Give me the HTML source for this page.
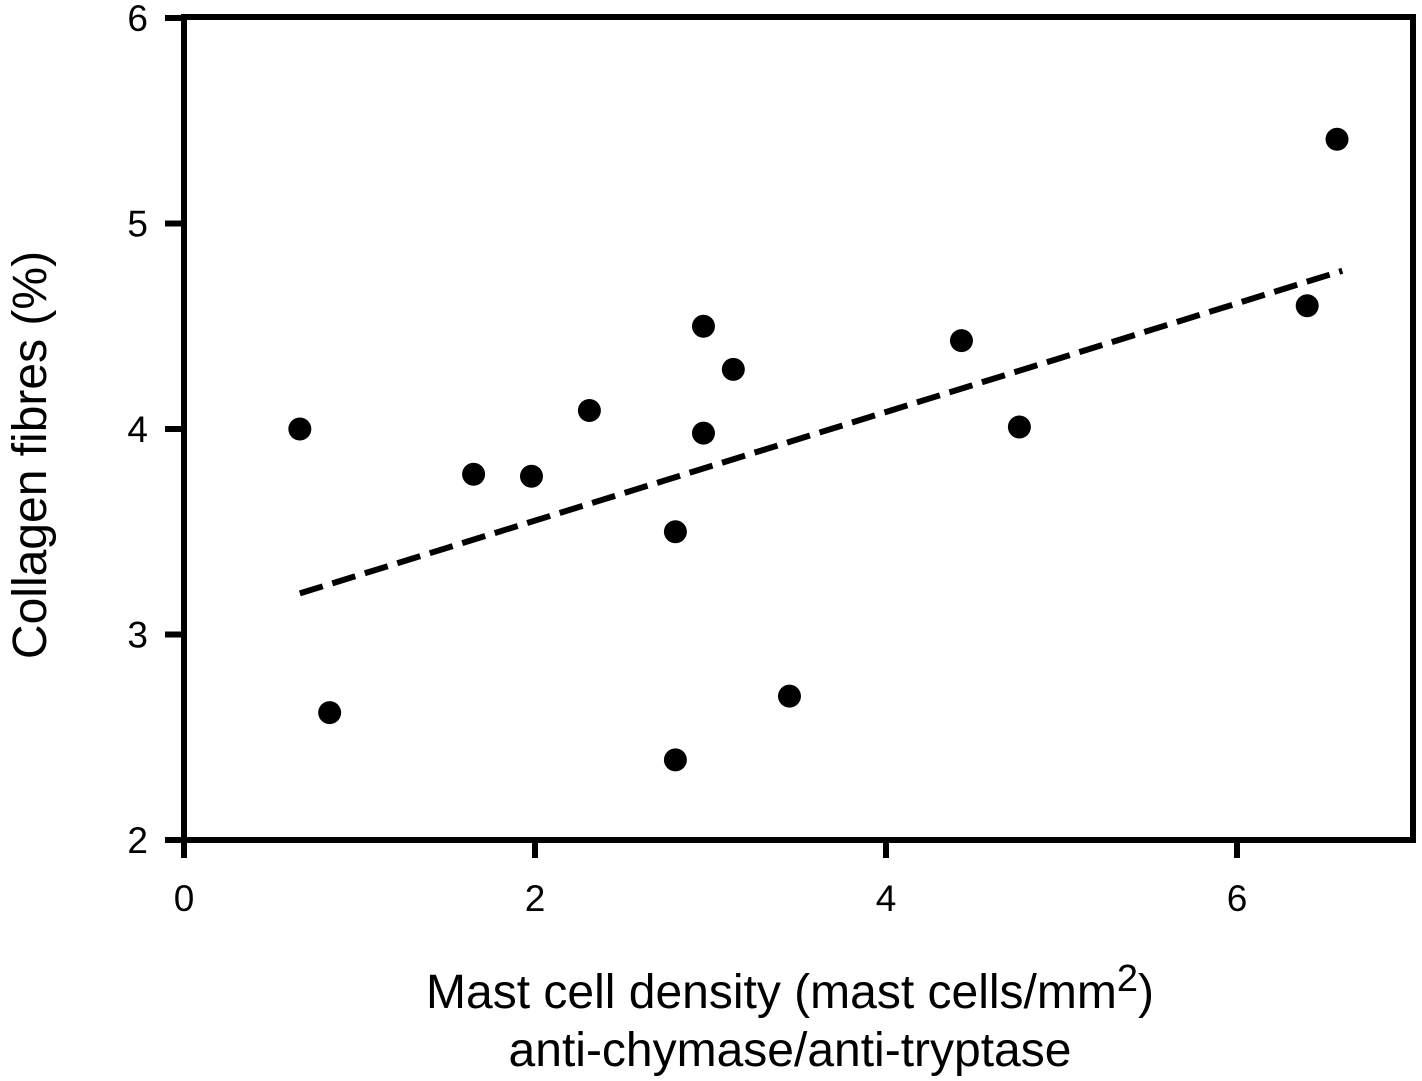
<!DOCTYPE html>
<html><head><meta charset="utf-8"><style>
html,body{margin:0;padding:0;background:#fff;}
svg text{font-family:"Liberation Sans",Arial,sans-serif;fill:#000;}
</style></head><body>
<svg width="1422" height="1076" viewBox="0 0 1422 1076">
<g id="ticks"></g>
<rect x="184" y="17" width="1229" height="823" fill="none" stroke="#000" stroke-width="6"/>
<g id="trend"></g>
<g id="pts"></g>
<text x="30" y="455" font-size="48" text-anchor="middle" transform="rotate(-90 30 455)" dy="16">Collagen fibres (%)</text>
<text x="790" y="1008" font-size="48" text-anchor="middle">Mast cell density (mast cells/mm<tspan dy="-17" font-size="38">2</tspan><tspan dy="17">)</tspan></text>
<text x="790" y="1066" font-size="48" text-anchor="middle">anti-chymase/anti-tryptase</text>
</svg>
<script>
const xVals=[0.66,0.83,1.65,1.98,2.31,2.80,2.80,2.96,2.96,3.13,3.45,4.43,4.76,6.40,6.57];
const yVals=[4.00,2.62,3.78,3.77,4.09,3.50,2.39,4.50,3.98,4.29,2.70,4.43,4.01,4.60,5.41];
const xTicks=[0,2,4,6];
const yTicks=[2,3,4,5,6];
const trendX=[0.66,6.6];
const trendY=[3.20,4.77];
const NS="http://www.w3.org/2000/svg";
const sx=v=>184+v*175.5;
const sy=v=>840-(v-2)*205.5;
function mk(t,a,p){const e=document.createElementNS(NS,t);for(const k in a)e.setAttribute(k,a[k]);p.appendChild(e);return e;}
const tg=document.getElementById('ticks');
xTicks.forEach(v=>{
 const l=mk('line',{x1:sx(v),x2:sx(v),y1:840,y2:858,stroke:'#000','stroke-width':6},tg);
 
 
 const t=mk('text',{x:sx(v),y:911,'font-size':37,'text-anchor':'middle'},tg);t.textContent=v;
 
 
});
yTicks.forEach(v=>{
 const l=mk('line',{x1:165,x2:184,y1:sy(v),y2:sy(v),stroke:'#000','stroke-width':6},tg);
 
 
 const t=mk('text',{x:148,y:sy(v)+13,'font-size':37,'text-anchor':'end'},tg);t.textContent=v;
 
 
});
const tr=mk('line',{x1:sx(trendX[0]),y1:sy(trendY[0]),x2:sx(trendX[1]),y2:sy(trendY[1]),stroke:'#000','stroke-width':6,'stroke-dasharray':'24 10'},document.getElementById('trend'));


const pg=document.getElementById('pts');
xVals.forEach((x,i)=>{
 const c=mk('circle',{cx:sx(x),cy:sy(yVals[i]),r:11.5,fill:'#000'},pg);
 
 
});
</script>
</body></html>
